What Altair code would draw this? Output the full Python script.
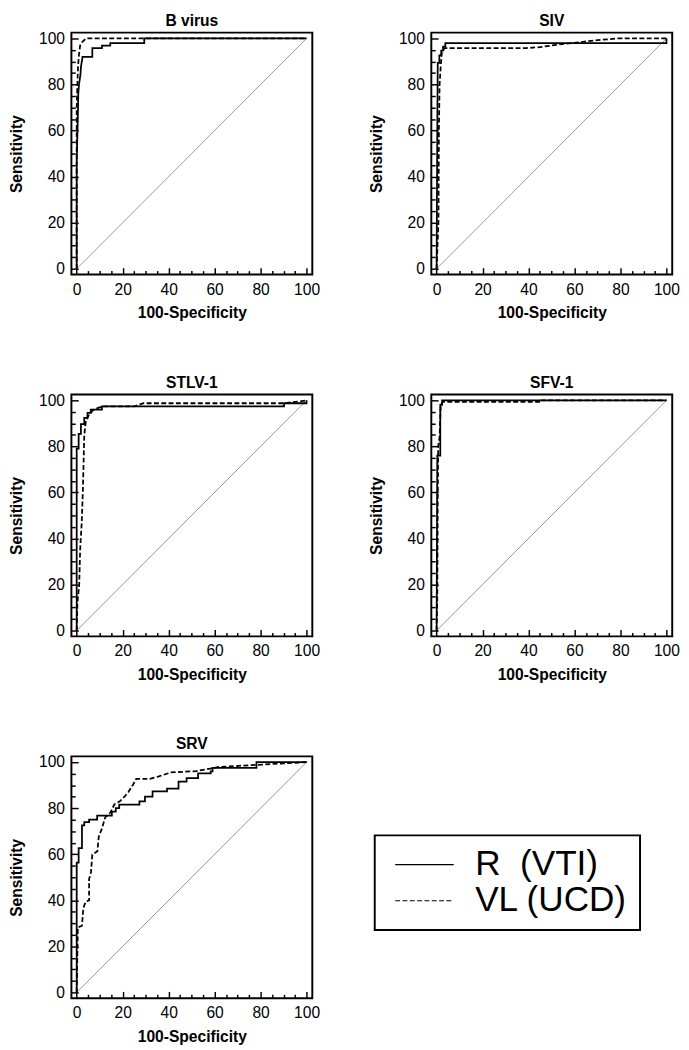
import altair as alt
import pandas as pd

SERIES = ["R\u00a0\u00a0(VTI)", "VL (UCD)"]
TICKS = list(range(0, 101, 5))
DIAG = [0, 100]

BV_R_X = [0, 0, 0.5, 0.7, 1.0, 1.6, 1.9, 2.5, 2.5, 6.8, 6.8, 11, 11, 14.6, 14.6, 29.4, 29.4, 100]
BV_R_Y = [0, 46, 66, 76, 80, 84, 88, 91.5, 92, 92, 95.8, 95.8, 96.9, 96.9, 97.9, 97.9, 100, 100]
BV_V_X = [0, 0, 0, 0.3, 0.6, 1.0, 1.5, 2.5, 4, 100]
BV_V_Y = [0, 46, 70, 80, 88, 93, 96.9, 98.5, 100, 100]

SIV_R_X = [0, 0.3, 0.5, 1.2, 1.2, 2.0, 2.0, 2.8, 2.8, 3.8, 3.8, 100, 100]
SIV_R_Y = [0, 60, 89.4, 89.4, 92.6, 92.6, 94.7, 94.7, 96.4, 96.4, 98, 98, 100]
SIV_V_X = [0, 0.8, 1.0, 1.3, 1.8, 2.3, 3.5, 39, 45, 52, 58.8, 70, 78.5, 100]
SIV_V_Y = [0, 20, 60, 80, 88, 94, 95.8, 95.8, 96.2, 97.2, 98, 99.2, 100, 100]

STLV_R_X = [0, 0, 0.85, 0.85, 1.85, 1.85, 3.3, 3.3, 4.7, 4.7, 6.1, 6.1, 11, 11, 90.2, 90.2, 100, 100]
STLV_R_Y = [0, 79, 79, 85.4, 85.4, 89.6, 89.6, 92.4, 92.4, 94.5, 94.5, 95.9, 95.9, 97.3, 97.3, 98.7, 98.7, 100]
STLV_V_X = [0, 0.3, 1.1, 1.5, 2.2, 2.7, 3.3, 4.0, 5.5, 7.5, 11, 25, 29, 90, 97, 100]
STLV_V_Y = [0, 12, 20, 35, 47, 61, 85, 91, 94, 96, 97.3, 97.3, 98.7, 98.7, 99.5, 100]

SFV_R_X = [0, 0.3, 1.6, 1.6, 2.4, 2.4, 100]
SFV_R_Y = [0, 76, 76, 98, 98, 100, 100]
SFV_V_X = [0, 0.3, 0.5, 0.7, 1.3, 1.8, 2.7, 44.6, 44.6, 100]
SFV_V_Y = [0, 15, 57, 80, 84, 98, 99.3, 99.3, 100, 100]

SRV_R_X = [0, 0, 0.85, 0.85, 2.3, 2.3, 3.3, 3.3, 5.4, 5.4, 8.9, 8.9, 15.3, 15.3, 17, 17, 18.5, 18.5,
           27.3, 27.3, 29.7, 29.7, 33, 33, 39.3, 39.3, 44.3, 44.3, 47.8, 47.8, 52.8, 52.8, 58.3, 58.3,
           59.1, 59.1, 78.2, 78.2, 100]
SRV_R_Y = [0, 56.4, 56.4, 62.7, 62.7, 72.5, 72.5, 74, 74, 75, 75, 76.8, 76.8, 78.5, 78.5, 80, 80, 81.5,
           81.5, 83, 83, 85, 85, 87.3, 87.3, 88.5, 88.5, 91.5, 91.5, 93, 93, 95.1, 95.1, 96,
           96, 97.5, 97.5, 100, 100]
SRV_V_X = [0, 0.3, 0.5, 2.3, 2.9, 3.9, 5.4, 5.4, 6.2, 6.8, 9.0, 9.6, 11, 12.4, 14.6, 16.4, 18.8, 21,
           22.5, 24.5, 25.9, 31.6, 35.4, 40.9, 52, 62, 78.2, 100]
SRV_V_Y = [0, 17, 28.2, 29, 36.6, 39.4, 40, 49.3, 52, 59.9, 61.3, 67.6, 71.2, 76, 78, 81.7, 83, 85.2,
           87, 90.2, 92.7, 92.7, 93.7, 95.5, 96.1, 97.9, 98.8, 100]

PANELS = [
    ("B virus", BV_R_X, BV_R_Y, BV_V_X, BV_V_Y),
    ("SIV", SIV_R_X, SIV_R_Y, SIV_V_X, SIV_V_Y),
    ("STLV-1", STLV_R_X, STLV_R_Y, STLV_V_X, STLV_V_Y),
    ("SFV-1", SFV_R_X, SFV_R_Y, SFV_V_X, SFV_V_Y),
    ("SRV", SRV_R_X, SRV_R_Y, SRV_V_X, SRV_V_Y),
]

FONT = "Liberation Sans"
MAJOR = "datum.value % 20 === 0"


def make_axis(title):
    return alt.Axis(
        values=TICKS,
        title=title,
        format="d",
        labelExpr=f"{MAJOR} ? datum.label : ''",
        tickSize={"expr": f"{MAJOR} ? -7 : -4"},
        labelPadding=14,
    )


def panel(title, rx, ry, vx, vy, legend):
    rows = []
    for s, xs, ys in [(SERIES[0], rx, ry), (SERIES[1], vx, vy)]:
        for i, (x, y) in enumerate(zip(xs, ys)):
            rows.append({"series": s, "i": i, "x": x, "y": y})
    df = pd.DataFrame(rows)
    diag = pd.DataFrame({"x": DIAG, "y": DIAG})
    xs = alt.Scale(domain=[-2.3, 102.5], nice=False, zero=False)
    ys = alt.Scale(domain=[-2.5, 102.5], nice=False, zero=False)
    base_x = alt.X("x:Q", scale=xs, axis=make_axis("100-Specificity"))
    base_y = alt.Y("y:Q", scale=ys, axis=make_axis("Sensitivity"))
    d = alt.Chart(diag).mark_line(color="#8c8c8c", strokeWidth=0.9).encode(x=base_x, y=base_y)
    c = alt.Chart(df).mark_line(color="black", strokeWidth=1.8).encode(
        x=base_x,
        y=base_y,
        order=alt.Order("i:Q"),
        strokeDash=alt.StrokeDash(
            "series:N",
            scale=alt.Scale(domain=SERIES, range=[[1, 0], [5, 2.5]]),
            legend=legend,
        ),
    )
    return alt.layer(d, c).properties(
        width=247,
        height=248,
        title=alt.TitleParams(title, fontSize=16, fontWeight="bold", font=FONT, offset=2, color="black"),
    )


legend = alt.Legend(
    title=None,
    orient="none",
    legendX=311,
    legendY=823,
    symbolType="M-2,0H2",
    symbolSize=900,
    symbolOffset=21,
    symbolStrokeWidth=1.2,
    symbolStrokeColor="black",
    labelFontSize=36,
    labelFont=FONT,
    labelColor="black",
    labelOffset=34,
    rowPadding=1,
    padding=12,
    strokeColor="black",
)

charts = [panel(*p, legend=legend) for p in PANELS]

chart = alt.concat(*charts, columns=2, spacing={"row": 123, "column": 122}, bounds="flush").properties(
    padding={"top": -10, "left": 0, "right": 0, "bottom": 0}
).configure_view(stroke="black", strokeWidth=2).configure_axis(
    domain=False,
    grid=False,
    labelFont=FONT,
    labelFontSize=16,
    labelColor="black",
    titleFont=FONT,
    titleFontSize=16,
    titleFontWeight="bold",
    titleColor="black",
    tickColor="black",
    tickWidth=1.5,
).configure_axisX(titlePadding=8).configure_axisY(titlePadding=14).configure_legend(strokeWidth=2)

chart.save("out.html", embed_options={"renderer": "svg", "actions": False})
